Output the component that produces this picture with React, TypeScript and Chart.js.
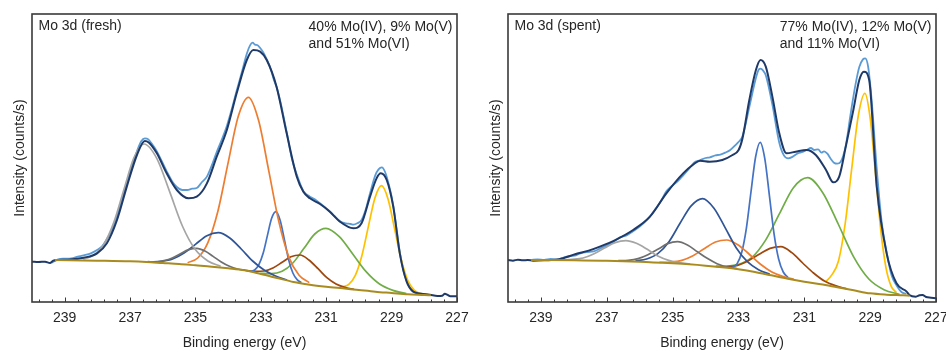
import React, { useEffect, useRef } from "react";
import { Chart, registerables } from "chart.js";

Chart.register(...registerables);

// ---------- axis ----------
const X_MIN = 227;
const X_MAX = 240;
const Y_MAX = 864;
const MAJOR_TICKS = [239, 237, 235, 233, 231, 229, 227];
const MINOR_STEP = 0.4;

// ---------- text ----------
const FRESH_TITLE = "Mo 3d (fresh)";
const FRESH_LINES = ["40% Mo(IV), 9% Mo(V)", "and 51% Mo(VI)"];
const SPENT_TITLE = "Mo 3d (spent)";
const SPENT_LINES = ["77% Mo(IV), 12% Mo(V)", "and 11% Mo(VI)"];
const X_TITLE = "Binding energy (eV)";
const Y_TITLE = "Intensity (counts/s)";

// ---------- colours ----------
const C_RAW = "#5B9BD5";
const C_FIT = "#1F3A68";
const C_BG = "#A98B1F";
const C_LGREY = "#A5A5A5";
const C_DGREY = "#6F6F6F";
const C_DBLUE = "#2F5597";
const C_ORANGE = "#ED7D31";
const C_BLUE = "#4472C4";
const C_BROWN = "#9E480E";
const C_GREEN = "#70AD47";
const C_YELLOW = "#FFC000";

// ================= FRESH =================
const freshRawE = [239.40, 239.20, 239.00, 238.80, 238.60, 238.42, 238.20, 238.01, 237.85, 237.71, 237.55, 237.40, 237.25, 237.10, 236.95, 236.79, 236.66, 236.55, 236.44, 236.30, 236.18, 235.88, 235.70, 235.57, 235.40, 235.25, 235.10, 234.96, 234.80, 234.65, 234.50, 234.35, 234.20, 234.04, 233.90, 233.74, 233.58, 233.43, 233.33, 233.25, 233.18, 233.10, 233.02, 232.92, 232.82, 232.70, 232.60, 232.52, 232.40, 232.21, 232.05, 231.90, 231.70, 231.50, 231.35, 231.19, 231.05, 230.89, 230.75, 230.58, 230.40, 230.25, 230.17, 230.05, 229.92, 229.80, 229.66, 229.50, 229.40, 229.30, 229.20, 229.08, 228.95, 228.85, 228.75, 228.60, 228.45, 228.30, 228.10, 227.90];
const freshRawV = [118, 128, 130, 131, 136, 140, 146, 156, 168, 188, 218, 258, 305, 355, 408, 452, 482, 491, 488, 470, 452, 392, 360, 345, 336, 336, 340, 342, 360, 376, 410, 450, 486, 528, 575, 634, 690, 745, 770, 778, 772, 770, 762, 748, 728, 700, 666, 646, 600, 510, 430, 382, 333, 316, 308, 296, 285, 272, 258, 242, 236, 234, 232, 236, 246, 275, 326, 380, 398, 404, 390, 350, 290, 220, 150, 80, 45, 30, 25, 22];

const freshFitE = [240.00, 239.80, 239.60, 239.45, 239.35, 239.20, 238.90, 238.42, 238.01, 237.71, 237.40, 237.10, 236.79, 236.55, 236.42, 236.18, 235.88, 235.57, 235.21, 234.96, 234.65, 234.35, 234.04, 233.74, 233.43, 233.23, 233.02, 232.82, 232.52, 232.21, 231.90, 231.70, 231.50, 231.19, 230.89, 230.58, 230.17, 229.92, 229.66, 229.46, 229.33, 229.15, 228.95, 228.75, 228.54, 228.34, 228.10, 227.83, 227.60, 227.45, 227.37, 227.30, 227.20, 227.00];
const freshFitV = [121, 120, 121, 117, 124, 126, 127, 133, 146, 176, 246, 346, 441, 483, 478, 446, 386, 336, 311, 316, 356, 436, 516, 626, 726, 756, 751, 726, 646, 506, 376, 331, 311, 294, 271, 241, 221, 236, 316, 371, 386, 366, 286, 146, 61, 31, 25, 22, 18, 19, 25, 22, 17, 17];

const freshBgE = [239.30, 238.00, 237.00, 236.50, 236.00, 235.50, 235.00, 234.50, 234.00, 233.50, 233.00, 232.50, 232.00, 231.50, 231.00, 230.50, 230.00, 229.50, 229.00, 228.50, 228.00, 227.80];
const freshBgV = [126, 124, 122, 120, 117, 114, 110, 106, 101, 95, 84, 72, 60, 52, 46, 41, 36, 31, 27, 23, 21, 20];

const freshLGreyE = [238.43, 238.12, 237.81, 237.50, 237.19, 236.88, 236.57, 236.18, 235.79, 235.40, 235.01, 234.62, 234.23];
const freshLGreyV = [128, 140, 172, 238, 337, 433, 474, 430, 331, 228, 158, 123, 107];

const freshDGreyE = [236.46, 236.21, 235.96, 235.71, 235.46, 235.21, 234.96, 234.71, 234.46, 234.21, 233.96, 233.71, 233.46];
const freshDGreyV = [121, 120, 124, 132, 145, 157, 161, 153, 137, 120, 107, 99, 95];

const freshDBlueE = [236.40, 236.05, 235.70, 235.35, 235.00, 234.65, 234.30, 233.95, 233.60, 233.25, 232.90, 232.55, 232.20];
const freshDBlueV = [120, 122, 129, 147, 173, 199, 208, 192, 159, 123, 96, 78, 66];

const freshOrangeE = [235.24, 234.93, 234.62, 234.31, 234.00, 233.69, 233.38, 233.07, 232.76, 232.45, 232.14, 231.83, 231.52];
const freshOrangeV = [118, 132, 178, 274, 418, 557, 614, 545, 395, 241, 134, 80, 58];

const freshBlueE = [233.32, 233.19, 233.06, 232.93, 232.80, 232.67, 232.54, 232.41, 232.28, 232.15, 232.02, 231.89, 231.76];
const freshBlueV = [92, 96, 112, 146, 199, 251, 271, 245, 187, 127, 87, 67, 58];

const freshBrownE = [233.45, 233.18, 232.90, 232.63, 232.35, 232.08, 231.80, 231.53, 231.25, 230.98, 230.70, 230.43, 230.15];
const freshBrownV = [95, 92, 93, 102, 119, 136, 141, 126, 100, 73, 54, 44, 38];

const freshGreenE = [233.02, 232.69, 232.35, 232.02, 231.68, 231.35, 231.01, 230.60, 230.19, 229.78, 229.37, 228.96, 228.55];
const freshGreenV = [86, 85, 92, 117, 161, 204, 221, 196, 144, 91, 54, 35, 25];

const freshYellowE = [230.51, 230.31, 230.11, 229.91, 229.71, 229.51, 229.31, 229.11, 228.91, 228.71, 228.51, 228.31, 228.11];
const freshYellowV = [45, 53, 80, 139, 227, 312, 349, 309, 220, 129, 66, 36, 25];

// ================= SPENT =================
const spentRawE = [239.30, 239.10, 238.90, 238.70, 238.50, 238.30, 238.10, 237.94, 237.80, 237.60, 237.40, 237.21, 237.00, 236.80, 236.60, 236.40, 236.20, 236.00, 235.80, 235.69, 235.50, 235.35, 235.19, 235.00, 234.85, 234.68, 234.50, 234.35, 234.17, 234.00, 233.87, 233.70, 233.55, 233.40, 233.25, 233.10, 233.00, 232.88, 232.67, 232.47, 232.38, 232.33, 232.25, 232.17, 231.97, 231.76, 231.62, 231.49, 231.35, 231.20, 231.05, 230.93, 230.80, 230.70, 230.58, 230.48, 230.40, 230.30, 230.20, 230.10, 230.00, 229.90, 229.74, 229.60, 229.45, 229.33, 229.22, 229.15, 229.06, 228.95, 228.80, 228.65, 228.50, 228.35, 228.20, 228.05, 227.90];
const spentRawV = [126, 128, 126, 129, 127, 134, 138, 140, 146, 150, 152, 160, 170, 180, 194, 200, 212, 226, 244, 256, 282, 304, 332, 350, 362, 380, 400, 418, 425, 432, 434, 440, 442, 448, 456, 470, 480, 496, 585, 672, 698, 700, 694, 680, 592, 478, 440, 431, 436, 446, 450, 456, 462, 456, 458, 448, 452, 445, 430, 418, 415, 420, 470, 560, 650, 705, 728, 731, 705, 600, 400, 240, 150, 80, 50, 30, 25];

const spentFitE = [240.00, 239.85, 239.70, 239.55, 239.40, 239.24, 238.90, 238.45, 237.94, 237.55, 237.21, 236.70, 236.20, 235.69, 235.19, 234.68, 234.35, 234.17, 233.87, 233.49, 233.18, 233.00, 232.88, 232.67, 232.47, 232.33, 232.17, 231.97, 231.76, 231.54, 231.26, 230.93, 230.65, 230.34, 230.12, 229.94, 229.74, 229.51, 229.33, 229.19, 229.03, 228.80, 228.50, 228.20, 227.89, 227.81, 227.61, 227.50, 227.41, 227.30, 227.15, 227.00];
const spentFitV = [126, 124, 127, 125, 126, 124, 125, 128, 144, 154, 166, 188, 216, 256, 326, 386, 414, 424, 421, 426, 441, 455, 490, 606, 696, 726, 706, 616, 506, 446, 451, 456, 441, 396, 359, 376, 466, 576, 666, 691, 666, 346, 146, 56, 31, 21, 16, 20, 21, 15, 13, 11];

const spentBgE = [239.30, 238.00, 237.00, 236.00, 235.00, 234.50, 234.00, 233.50, 233.00, 232.50, 232.00, 231.50, 231.00, 230.50, 230.00, 229.50, 229.00, 228.50, 228.00, 227.80];
const spentBgV = [126, 125, 124, 121, 116, 113, 109, 104, 98, 90, 80, 70, 61, 53, 44, 35, 26, 22, 20, 19];

const spentLGreyE = [238.37, 238.05, 237.72, 237.40, 237.07, 236.75, 236.42, 236.10, 235.77, 235.45, 235.12, 234.80, 234.47];
const spentLGreyV = [126, 128, 132, 144, 162, 178, 184, 176, 158, 138, 125, 118, 114];

const spentDGreyE = [236.65, 236.35, 236.05, 235.75, 235.45, 235.15, 234.85, 234.55, 234.25, 233.95, 233.65, 233.35, 233.05];
const spentDGreyV = [124, 125, 130, 142, 158, 175, 181, 171, 151, 131, 115, 105, 100];

const spentDBlueE = [236.13, 235.79, 235.45, 235.11, 234.77, 234.43, 234.09, 233.75, 233.41, 233.07, 232.73, 232.39, 232.05];
const spentDBlueV = [123, 129, 145, 181, 237, 289, 310, 282, 224, 163, 121, 97, 83];

const spentOrangeE = [235.40, 235.06, 234.72, 234.38, 234.04, 233.70, 233.36, 233.02, 232.68, 232.34, 232.00, 231.66, 231.32];
const spentOrangeV = [119, 120, 125, 139, 160, 180, 186, 172, 144, 114, 91, 77, 68];

const spentBlueE = [233.18, 233.04, 232.90, 232.76, 232.62, 232.48, 232.34, 232.20, 232.06, 231.92, 231.78, 231.64, 231.50];
const spentBlueV = [104, 115, 149, 221, 330, 435, 479, 430, 319, 205, 129, 90, 74];

const spentBrownE = [233.69, 233.36, 233.03, 232.70, 232.37, 232.04, 231.71, 231.38, 231.05, 230.72, 230.39, 230.06, 229.73];
const spentBrownV = [107, 106, 110, 124, 143, 161, 166, 148, 117, 87, 63, 49, 40];

const spentGreenE = [233.45, 233.03, 232.60, 232.18, 231.75, 231.33, 230.90, 230.44, 229.97, 229.51, 229.04, 228.58, 228.11];
const spentGreenV = [106, 112, 133, 185, 266, 343, 373, 328, 234, 137, 69, 37, 23];

const spentYellowE = [230.36, 230.16, 229.96, 229.76, 229.56, 229.36, 229.16, 229.00, 228.84, 228.68, 228.52, 228.36, 228.20];
const spentYellowV = [60, 82, 124, 234, 400, 559, 626, 552, 388, 218, 103, 47, 28];

// ---------- helpers ----------
const FONT_FAMILY = '"Liberation Sans", Arial, Helvetica, sans-serif';
const TEXT_COLOR = "#262626";

function pts(E: number[], V: number[]) {
  return E.map((x, i) => ({ x, y: V[i] }));
}

function line(label: string, E: number[], V: number[], color: string, width = 1.7) {
  return {
    label,
    data: pts(E, V),
    borderColor: color,
    backgroundColor: color,
    borderWidth: width,
    pointRadius: 0,
    fill: false,
    cubicInterpolationMode: "monotone" as const,
  };
}

const framePlugin = {
  id: "frameTicks",
  afterDatasetsDraw(chart: any) {
    const { ctx, chartArea: a, scales } = chart;
    const x = scales.x;
    ctx.save();
    ctx.strokeStyle = "#3a3a3a";
    ctx.lineWidth = 1;
    // minor + major ticks pointing inward from the bottom frame
    let start = MAJOR_TICKS[0];
    while (start + MINOR_STEP <= X_MAX + 1e-6) start += MINOR_STEP;
    for (let v = start; v >= X_MIN - 1e-6; v -= MINOR_STEP) {
      const px = Math.round(x.getPixelForValue(v)) + 0.5;
      const major = MAJOR_TICKS.some((t) => Math.abs(t - v) < 0.01);
      ctx.beginPath();
      ctx.moveTo(px, a.bottom);
      ctx.lineTo(px, a.bottom - (major ? 4.5 : 2.5));
      ctx.stroke();
    }
    ctx.lineWidth = 1.6;
    ctx.strokeRect(a.left, a.top, a.right - a.left, a.bottom - a.top);
    ctx.restore();
  },
};

const textPlugin = {
  id: "panelText",
  afterDraw(chart: any, _args: any, opts: any) {
    const { ctx, chartArea: a } = chart;
    ctx.save();
    ctx.fillStyle = TEXT_COLOR;
    ctx.font = `14px ${FONT_FAMILY}`;
    ctx.textBaseline = "middle";
    ctx.textAlign = "left";
    ctx.fillText(opts.title, a.left + 6.5, a.top + 12);
    const w = ctx.measureText(opts.lines[0]).width;
    const lx = a.right - 4.5 - w;
    ctx.fillText(opts.lines[0], lx, a.top + 13.5);
    ctx.fillText(opts.lines[1], lx, a.top + 30);
    ctx.restore();
  },
};

type PanelCfg = {
  title: string;
  lines: string[];
  rightPad: number;
  datasets: any[];
};

const FRESH: PanelCfg = {
  title: FRESH_TITLE,
  lines: FRESH_LINES,
  rightPad: 13,
  datasets: [
    line("Background", freshBgE, freshBgV, C_BG, 2),
    line("Envelope", freshFitE, freshFitV, C_FIT, 2),
    line("Mo(VI) 3d3/2", freshLGreyE, freshLGreyV, C_LGREY),
    line("Mo(V) 3d3/2", freshDGreyE, freshDGreyV, C_DGREY),
    line("Mo(VI) a", freshDBlueE, freshDBlueV, C_DBLUE),
    line("Mo(VI) 3d5/2", freshOrangeE, freshOrangeV, C_ORANGE),
    line("Mo(IV) 3d3/2", freshBlueE, freshBlueV, C_BLUE),
    line("Mo(V) 3d5/2", freshBrownE, freshBrownV, C_BROWN),
    line("S 2s", freshGreenE, freshGreenV, C_GREEN),
    line("Mo(IV) 3d5/2", freshYellowE, freshYellowV, C_YELLOW),
    line("Data", freshRawE, freshRawV, C_RAW, 1.8),
  ],
};

const SPENT: PanelCfg = {
  title: SPENT_TITLE,
  lines: SPENT_LINES,
  rightPad: 10,
  datasets: [
    line("Background", spentBgE, spentBgV, C_BG, 2),
    line("Envelope", spentFitE, spentFitV, C_FIT, 2),
    line("Mo(VI) 3d3/2", spentLGreyE, spentLGreyV, C_LGREY),
    line("Mo(V) 3d3/2", spentDGreyE, spentDGreyV, C_DGREY),
    line("Mo(VI) a", spentDBlueE, spentDBlueV, C_DBLUE),
    line("Mo(VI) 3d5/2", spentOrangeE, spentOrangeV, C_ORANGE),
    line("Mo(IV) 3d3/2", spentBlueE, spentBlueV, C_BLUE),
    line("Mo(V) 3d5/2", spentBrownE, spentBrownV, C_BROWN),
    line("S 2s", spentGreenE, spentGreenV, C_GREEN),
    line("Mo(IV) 3d5/2", spentYellowE, spentYellowV, C_YELLOW),
    line("Data", spentRawE, spentRawV, C_RAW, 1.8),
  ],
};

function Panel({ cfg, left }: { cfg: PanelCfg; left: number }) {
  const ref = useRef<HTMLCanvasElement | null>(null);
  useEffect(() => {
    if (!ref.current) return;
    const font = { family: FONT_FAMILY, size: 14 };
    const chart = new Chart(ref.current, {
      type: "line",
      data: { datasets: cfg.datasets },
      plugins: [framePlugin, textPlugin],
      options: {
        animation: false,
        responsive: false,
        devicePixelRatio: 1,
        events: [],
        layout: { padding: { top: 14, right: cfg.rightPad, bottom: 0, left: 0 } },
        plugins: {
          legend: { display: false },
          tooltip: { enabled: false },
          panelText: { title: cfg.title, lines: cfg.lines },
        } as any,
        scales: {
          x: {
            type: "linear",
            min: X_MIN,
            max: X_MAX,
            reverse: true,
            grid: { display: false, drawTicks: false },
            border: { display: false },
            afterBuildTicks: (s: any) => {
              s.ticks = MAJOR_TICKS.map((v) => ({ value: v }));
            },
            afterFit: (s: any) => {
              s.height = 51;
              s.paddingLeft = 0;
              s.paddingRight = 0;
            },
            ticks: {
              padding: 8,
              color: TEXT_COLOR,
              font,
              maxRotation: 0,
              autoSkip: false,
              callback: (v: any) => String(v),
            },
            title: {
              display: true,
              text: X_TITLE,
              color: TEXT_COLOR,
              font,
              padding: { top: 0, bottom: 1.6 },
            },
          },
          y: {
            type: "linear",
            min: 0,
            max: Y_MAX,
            grid: { display: false, drawTicks: false },
            border: { display: false },
            ticks: { display: false },
            afterFit: (s: any) => {
              s.width = 32;
            },
            title: {
              display: true,
              text: Y_TITLE,
              color: TEXT_COLOR,
              font,
              padding: { top: 12, bottom: 0 },
            },
          },
        },
      } as any,
    });
    return () => chart.destroy();
  }, [cfg]);
  return (
    <canvas
      ref={ref}
      width={470}
      height={353}
      style={{ position: "absolute", left, top: 0, width: 470, height: 353 }}
    />
  );
}

export default function App() {
  return (
    <div style={{ position: "absolute", left: 0, top: 0, width: 946, height: 353, background: "#fff" }}>
      <Panel cfg={FRESH} left={0} />
      <Panel cfg={SPENT} left={476} />
    </div>
  );
}
